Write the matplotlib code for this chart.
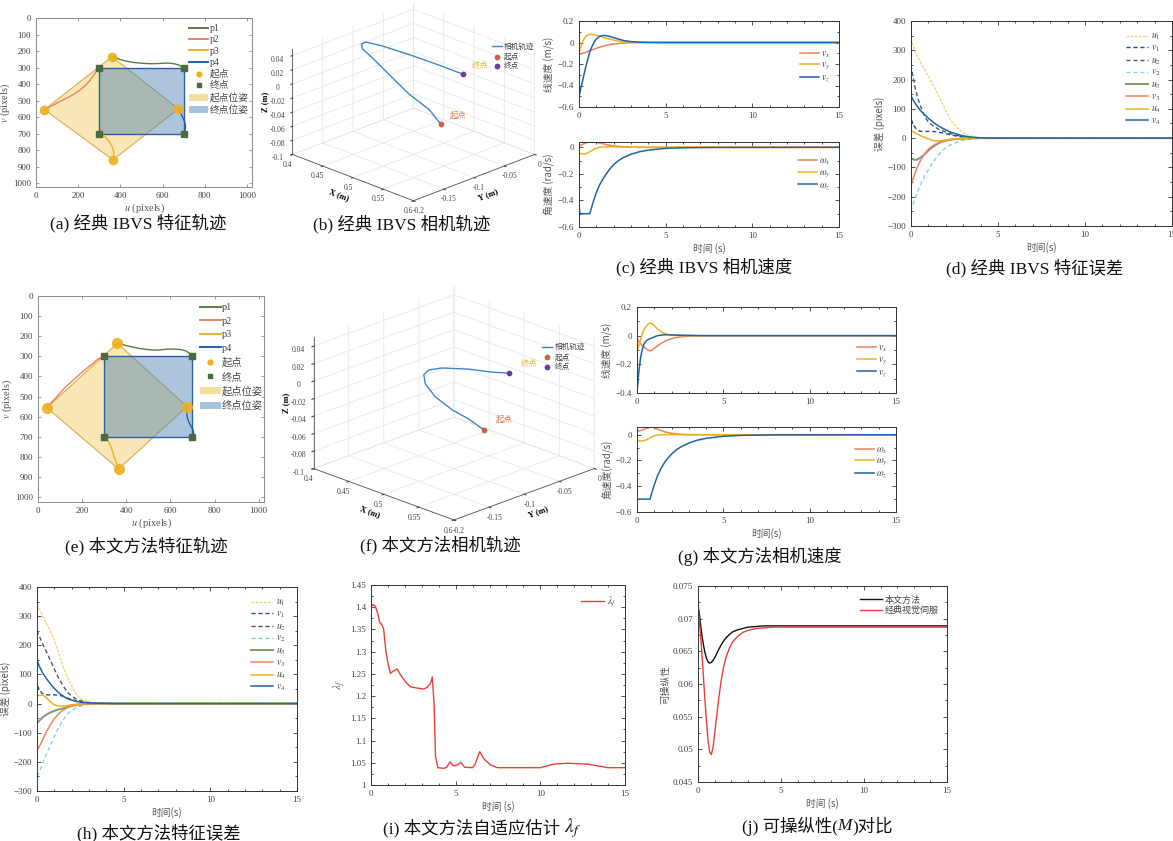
import matplotlib
matplotlib.use("Agg")
import matplotlib.pyplot as plt
from matplotlib.ticker import FuncFormatter, MultipleLocator
from matplotlib.patches import Polygon, Patch
from matplotlib.lines import Line2D

# ---------------- data ----------------
# image-plane feature corners (pixels)
start_u = [360, 40, 365, 675]
start_v = [235, 555, 860, 550]
end_u = [300, 700, 700, 300]
end_v = [300, 300, 700, 700]

p1_a_u = [364, 380, 400, 430, 462, 500, 541, 580, 620, 650, 675, 696, 700]
p1_a_v = [235, 243, 252, 262, 269, 274, 277, 276, 273, 276, 284, 298, 300]
p2_a_u = [40, 60, 82, 110, 146, 180, 209, 235, 256, 275, 288, 299, 300]
p2_a_v = [555, 542, 527, 508, 485, 462, 436, 408, 378, 345, 318, 302, 300]
p3_a_u = [365, 368, 369, 366, 360, 351, 340, 330, 318, 306, 300]
p3_a_v = [860, 840, 818, 797, 778, 757, 737, 722, 710, 702, 700]
p4_a_u = [675, 680, 686, 693, 700, 706, 709, 708, 705, 701, 700]
p4_a_v = [550, 562, 578, 596, 615, 635, 655, 672, 686, 696, 700]

p1_e_u = [364, 385, 402, 430, 462, 495, 523, 555, 583, 615, 644, 670, 689, 700]
p1_e_v = [236, 242, 247, 254, 261, 266, 269, 268, 264, 264, 266, 273, 286, 300]
p2_e_u = [40, 60, 80, 98, 125, 159, 190, 220, 245, 265, 285, 300]
p2_e_v = [555, 530, 507, 485, 452, 419, 388, 360, 338, 319, 306, 300]
p3_e_u = [365, 360, 352, 345, 340, 334, 326, 318, 311, 305, 300]
p3_e_v = [860, 840, 820, 800, 780, 760, 738, 722, 710, 704, 700]
p4_e_u = [675, 674, 675, 678, 684, 692, 700, 705, 704, 700]
p4_e_v = [550, 570, 590, 610, 628, 645, 660, 675, 690, 700]

# camera trajectories (m)
cam_b_x = [0.518, 0.523, 0.519, 0.491, 0.465, 0.447, 0.440, 0.439, 0.453, 0.483, 0.507, 0.528]
cam_b_y = [-0.073, -0.097, -0.126, -0.131, -0.132, -0.131, -0.126, -0.118, -0.105, -0.086, -0.066, -0.046]
cam_b_z = [-0.060, -0.030, 0.000, 0.020, 0.035, 0.042, 0.045, 0.045, 0.040, 0.030, 0.018, 0.005]

cam_f_x = [0.515, 0.509, 0.503, 0.491, 0.481, 0.474, 0.474, 0.479, 0.499, 0.518, 0.529]
cam_f_y = [-0.072, -0.087, -0.106, -0.118, -0.122, -0.117, -0.110, -0.097, -0.078, -0.064, -0.050]
cam_f_z = [-0.060, -0.045, -0.030, -0.015, -0.002, 0.005, 0.008, 0.008, 0.007, 0.005, 0.003]

# classic IBVS camera velocity
t_cv = [0, 0.1, 0.2, 0.3, 0.4, 0.5, 0.6, 0.7, 0.8, 0.9, 1.0, 1.2, 1.4, 1.6, 1.8, 2.0, 2.3, 2.6, 3.0, 3.5, 4.0, 5.0, 6.0, 8.0, 15]
vx_c = [-0.110, -0.106, -0.101, -0.096, -0.090, -0.084, -0.078, -0.072, -0.066, -0.060, -0.054, -0.043, -0.034, -0.026, -0.019, -0.014, -0.009, -0.005, -0.002, -0.001, 0, 0, 0, 0, 0]
vy_c = [-0.092, -0.045, 0.005, 0.035, 0.057, 0.068, 0.074, 0.076, 0.075, 0.072, 0.067, 0.058, 0.048, 0.039, 0.030, 0.022, 0.013, 0.007, 0.003, 0.001, 0, 0, 0, 0, 0]
vz_c = [-0.50, -0.43, -0.36, -0.29, -0.22, -0.16, -0.10, -0.055, -0.02, 0.01, 0.033, 0.058, 0.066, 0.063, 0.055, 0.045, 0.030, 0.018, 0.008, 0.003, 0.001, 0, 0, 0, 0]
t_cw = [0, 0.05, 0.1, 0.2, 0.3, 0.4, 0.5, 0.62, 0.7, 0.8, 0.9, 1.0, 1.2, 1.4, 1.6, 1.8, 2.0, 2.3, 2.6, 3.0, 3.5, 4.0, 5.0, 6.0, 8.0, 15]
wx_c = [0.008, 0.011, 0.015, 0.022, 0.028, 0.033, 0.037, 0.040, 0.040, 0.040, 0.039, 0.037, 0.032, 0.026, 0.020, 0.015, 0.011, 0.007, 0.004, 0.002, 0.001, 0, 0, 0, 0, 0]
wy_c = [-0.045, -0.046, -0.047, -0.049, -0.050, -0.048, -0.043, -0.033, -0.027, -0.019, -0.012, -0.007, 0.000, 0.003, 0.004, 0.004, 0.003, 0.002, 0.001, 0.0005, 0, 0, 0, 0, 0, 0]
wz_c = [-0.43, -0.50, -0.50, -0.50, -0.50, -0.50, -0.50, -0.50, -0.465, -0.42, -0.38, -0.34, -0.28, -0.235, -0.195, -0.16, -0.13, -0.098, -0.075, -0.052, -0.033, -0.021, -0.008, -0.003, -0.001, 0]

# proposed method camera velocity
t_gv = [0, 0.05, 0.1, 0.2, 0.3, 0.4, 0.5, 0.6, 0.7, 0.8, 0.9, 1.0, 1.2, 1.4, 1.6, 1.8, 2.0, 2.3, 2.6, 3.0, 3.5, 4.0, 5.0, 6.0, 8.0, 15]
vx_g = [-0.020, -0.030, -0.040, -0.055, -0.068, -0.078, -0.088, -0.097, -0.104, -0.105, -0.098, -0.088, -0.070, -0.054, -0.040, -0.029, -0.021, -0.012, -0.007, -0.003, -0.001, 0, 0, 0, 0, 0]
vy_g = [-0.110, -0.090, -0.070, -0.030, 0.010, 0.042, 0.062, 0.077, 0.085, 0.088, 0.082, 0.070, 0.045, 0.027, 0.015, 0.008, 0.004, 0.002, 0.001, 0, 0, 0, 0, 0, 0, 0]
vz_g = [-0.390, -0.330, -0.260, -0.160, -0.100, -0.060, -0.040, -0.030, -0.024, -0.019, -0.014, -0.008, 0.000, 0.004, 0.006, 0.006, 0.005, 0.004, 0.003, 0.002, 0.001, 0, 0, 0, 0, 0]
t_gw = [0, 0.05, 0.1, 0.2, 0.3, 0.4, 0.5, 0.6, 0.75, 0.85, 0.95, 1.05, 1.2, 1.4, 1.6, 1.8, 2.0, 2.3, 2.6, 3.0, 3.5, 4.0, 5.0, 6.0, 8.0, 15]
wx_g = [0.025, 0.027, 0.029, 0.033, 0.037, 0.041, 0.046, 0.051, 0.058, 0.060, 0.057, 0.052, 0.043, 0.032, 0.023, 0.016, 0.011, 0.006, 0.003, 0.001, 0, 0, 0, 0, 0, 0]
wy_g = [-0.045, -0.046, -0.047, -0.048, -0.048, -0.046, -0.042, -0.036, -0.025, -0.018, -0.012, -0.007, -0.003, 0.000, 0.001, 0.001, 0.001, 0, 0, 0, 0, 0, 0, 0, 0, 0]
wz_g = [-0.5, -0.5, -0.5, -0.5, -0.5, -0.5, -0.5, -0.5, -0.5, -0.455, -0.41, -0.37, -0.315, -0.26, -0.215, -0.18, -0.15, -0.115, -0.09, -0.065, -0.042, -0.028, -0.012, -0.005, -0.001, 0]

# feature errors (pixels)
t_e = [0, 0.1, 0.2, 0.3, 0.4, 0.5, 0.6, 0.8, 1.0, 1.2, 1.4, 1.6, 1.8, 2.0, 2.3, 2.6, 3.0, 3.5, 4.0, 4.5, 5.0, 6.0, 8.0, 15]
err_d = {
    "u1": [340, 320, 302, 288, 276, 265, 253, 232, 212, 190, 167, 143, 119, 94, 60, 38, 18, 7, 2, 1, 0, 0, 0, 0],
    "v1": [65, 52, 40, 32, 27, 24, 23, 23, 23, 23, 22, 20, 18, 15, 11, 7, 4, 2, 1, 0.5, 0, 0, 0, 0],
    "u2": [250, 215, 183, 157, 135, 117, 102, 72, 55, 45, 37, 30, 25, 21, 15, 10, 5, 2, 1, 0.5, 0, 0, 0, 0],
    "v2": [-250, -230, -212, -195, -180, -165, -152, -128, -107, -88, -71, -56, -43, -33, -22, -14, -7, -3, -1, -0.5, 0, 0, 0, 0],
    "u3": [-70, -72, -74, -74, -72, -68, -64, -54, -42, -32, -24, -17, -12, -9, -5, -3, -1.5, -0.5, 0, 0, 0, 0, 0, 0],
    "v3": [-160, -142, -125, -109, -95, -82, -71, -52, -38, -28, -21, -15, -11, -8, -5, -3, -1.5, -0.5, 0, 0, 0, 0, 0, 0],
    "u4": [25, 22, 19, 16, 13, 10, 7, 2, -3, -7, -9, -9, -8, -6, -4, -2, -1, 0, 0, 0, 0, 0, 0, 0],
    "v4": [145, 133, 123, 114, 106, 98, 91, 79, 68, 58, 49, 41, 34, 28, 20, 14, 8, 3, 1, 0.5, 0, 0, 0, 0],
}
err_h = {
    "u1": [340, 328, 318, 305, 292, 280, 268, 245, 218, 182, 145, 112, 85, 62, 28, 14, 6, 2, 1, 0.5, 0, 0, 0, 0],
    "v1": [63, 52, 42, 35, 32, 31, 30, 30, 30, 29, 27, 23, 18, 14, 9, 5, 2, 1, 0.5, 0, 0, 0, 0, 0],
    "u2": [251, 235, 222, 208, 195, 183, 170, 145, 118, 93, 72, 52, 36, 26, 14, 8, 3, 1, 0.5, 0, 0, 0, 0, 0],
    "v2": [-250, -238, -225, -210, -195, -180, -166, -140, -113, -88, -66, -48, -34, -24, -13, -7, -3, -1, 0, 0, 0, 0, 0, 0],
    "u3": [-67, -61, -55, -49, -44, -40, -36, -30, -25, -21, -18, -15, -11, -7, -4, -2, -1, 0, 0, 0, 0, 0, 0, 0],
    "v3": [-160, -150, -140, -128, -115, -102, -90, -70, -52, -38, -27, -19, -13, -9, -5, -3, -1, 0, 0, 0, 0, 0, 0, 0],
    "u4": [25, 28, 29, 29, 27, 22, 16, 5, -4, -8, -9, -8, -6, -4, -2, -1, 0, 0, 0, 0, 0, 0, 0, 0],
    "v4": [149, 133, 120, 108, 98, 89, 81, 66, 52, 40, 30, 22, 16, 12, 7, 4, 2, 1, 0.5, 0, 0, 0, 0, 0],
}

# adaptive estimate lambda_f
t_i = [0, 0.12, 0.26, 0.4, 0.51, 0.65, 0.75, 0.87, 1.0, 1.15, 1.3, 1.54, 1.74, 2.04, 2.33, 2.73, 3.12, 3.32, 3.52, 3.62,
       3.72, 3.81, 3.95, 4.31, 4.47, 4.66, 4.86, 5.1, 5.3, 5.53, 5.99, 6.13, 6.42, 6.68, 7.07, 7.47, 10.0, 10.8, 11.6, 12.8, 14.0, 15.0]
lam_f = [1.401, 1.406, 1.402, 1.385, 1.366, 1.36, 1.35, 1.304, 1.274, 1.251, 1.256, 1.261, 1.248, 1.232, 1.221, 1.218, 1.216, 1.22, 1.229, 1.243,
         1.184, 1.064, 1.039, 1.0375, 1.04, 1.052, 1.043, 1.045, 1.051, 1.04, 1.039, 1.045, 1.075, 1.058, 1.045, 1.039, 1.039, 1.047, 1.049, 1.047, 1.039, 1.039]

# manipulability
t_j = [0, 0.05, 0.1, 0.16, 0.22, 0.3, 0.4, 0.5, 0.6, 0.7, 0.8, 0.9, 1.0, 1.1, 1.25, 1.4, 1.55, 1.7, 1.9, 2.1, 2.4, 2.7, 3.0, 3.5, 4.0, 4.5, 5.0, 6.0, 15]
m_ours = [0.0720, 0.0712, 0.0703, 0.0690, 0.0677, 0.0664, 0.0650, 0.0640, 0.0634, 0.0632, 0.0633, 0.0636, 0.0640, 0.0645, 0.0653, 0.0660, 0.0666, 0.0671, 0.0676, 0.0680,
          0.0683, 0.0685, 0.0687, 0.0688, 0.0689, 0.0689, 0.0689, 0.0689, 0.0689]
m_classic = [0.0720, 0.0705, 0.0690, 0.0672, 0.0652, 0.0622, 0.0582, 0.0546, 0.0515, 0.0496, 0.0492, 0.0502, 0.0522, 0.0546, 0.0578, 0.0606, 0.0627, 0.0642, 0.0655, 0.0665,
             0.0673, 0.0679, 0.0682, 0.0685, 0.0686, 0.0687, 0.0687, 0.0687, 0.0687]

# ---------------- style ----------------
W, H = 1173, 841
plt.rcParams["font.family"] = ["Liberation Serif", "Noto Sans CJK SC"]
plt.rcParams["mathtext.fontset"] = "stix"
plt.rcParams["axes.unicode_minus"] = True

C_ORANGE = "#E9835F"
C_YELLOW = "#EDB120"
C_BLUE = "#1F63A8"
C_GREEN = "#5B7A4A"
C_LABEL = "#555555"
CJK = ["Noto Sans CJK SC", "DejaVu Sans"]
MIXED = ["Liberation Serif", "Noto Sans CJK SC"]

fig = plt.figure(figsize=(W / 100, H / 100), dpi=100)
renderer = fig.canvas.get_renderer()


def px_axes(l, t, r, b, **kw):
    return fig.add_axes([l / W, 1 - b / H, (r - l) / W, (b - t) / H], **kw)


def num(v, pos=None):
    if abs(v) < 1e-12:
        return "0"
    return ("%g" % v).replace("-", "\u2212")


def style2d(ax, spine="#333333", minor_x=1, major_x=5):
    for s in ax.spines.values():
        s.set_color(spine)
        s.set_linewidth(0.7)
    ax.tick_params(which="both", direction="in", top=True, right=True,
                   labelsize=6.5, colors=spine, labelcolor="#444444", width=0.6)
    ax.tick_params(which="major", length=3)
    ax.tick_params(which="minor", length=1.6)
    if major_x:
        ax.xaxis.set_major_locator(MultipleLocator(major_x))
    ax.xaxis.set_major_formatter(FuncFormatter(num))
    ax.yaxis.set_major_formatter(FuncFormatter(num))
    if minor_x:
        ax.xaxis.set_minor_locator(MultipleLocator(minor_x))


def caption(x, y, parts):
    """Centre a caption made of (text, font kwargs) pieces laid side by side."""
    texts = []
    for s, kw in parts:
        opts = dict(fontsize=12.5, color="#111111", family=MIXED)
        opts.update(kw)
        texts.append(fig.text(0, 1 - y / H, s, ha="left", va="center", **opts))
    widths = [t.get_window_extent(renderer).width for t in texts]
    x0 = x - sum(widths) / 2
    for t, w in zip(texts, widths):
        t.set_x(x0 / W)
        x0 += w


# ---------------- image-plane trajectories ----------------
def feature_panel(rect, trajs, legend_fs, anchor, mk_start, mk_end, spacing):
    ax = px_axes(*rect)
    ax.add_patch(Polygon(list(zip(start_u, start_v)), closed=True,
                         facecolor=(0.95, 0.78, 0.33, 0.42), edgecolor="#D6AC4C", lw=0.8))
    ax.add_patch(Polygon(list(zip(end_u, end_v)), closed=True,
                         facecolor=(0.29, 0.50, 0.70, 0.45), edgecolor="#2F5F9E", lw=1.0))
    colors = [C_GREEN, C_ORANGE, C_YELLOW, C_BLUE]
    for (u, v), c in zip(trajs, colors):
        ax.plot(u, v, color=c, lw=1.0)
    ax.plot(start_u, start_v, "o", color=C_YELLOW, ms=mk_start, alpha=0.9, ls="none")
    ax.plot(end_u, end_v, "s", color="#4D6B3C", ms=mk_end, ls="none")
    ax.set_xlim(0, 1024)
    ax.set_ylim(1024, 0)
    ax.set_xticks(range(0, 1001, 200))
    ax.set_yticks(range(0, 1001, 100))
    style2d(ax, spine="#8a8a8a", minor_x=0, major_x=0)
    ax.tick_params(labelsize=6.5, length=2)
    ax.set_xlabel(r"$u$ (pixels)", fontsize=7.5, color=C_LABEL, labelpad=1)
    ax.set_ylabel(r"$v$ (pixels)", fontsize=7.5, color=C_LABEL, labelpad=1)
    handles = [Line2D([], [], color=c, lw=1.4) for c in colors]
    handles += [Line2D([], [], marker="o", color=C_YELLOW, ls="none", ms=3.5),
                Line2D([], [], marker="s", color="#4D6B3C", ls="none", ms=2.8),
                Patch(facecolor=(0.97, 0.87, 0.62), edgecolor="none"),
                Patch(facecolor=(0.66, 0.76, 0.86), edgecolor="none")]
    labels = ["p1", "p2", "p3", "p4", "起点", "终点", "起点位姿", "终点位姿"]
    leg = ax.legend(handles, labels, loc="upper left", bbox_to_anchor=anchor, frameon=False,
                    fontsize=legend_fs, handlelength=2.0, handletextpad=0.15, labelspacing=spacing,
                    borderpad=0, borderaxespad=0)
    for t in leg.get_texts():
        t.set_color("#444444")
        t.set_family(MIXED)
    return ax


feature_panel((36, 18, 252, 187),
              [(p1_a_u, p1_a_v), (p2_a_u, p2_a_v), (p3_a_u, p3_a_v), (p4_a_u, p4_a_v)],
              7.0, (0.708, 0.965), 6, 4, 0.25)
caption(138, 223, [("(a) 经典 IBVS 特征轨迹", {})])

feature_panel((38, 296, 264, 502),
              [(p1_e_u, p1_e_v), (p2_e_u, p2_e_v), (p3_e_u, p3_e_v), (p4_e_u, p4_e_v)],
              7.4, (0.717, 0.965), 7, 4.5, 0.42)
caption(146, 546, [("(e) 本文方法特征轨迹", {})])


# ---------------- camera trajectories (3D) ----------------
def cam_panel(rect, xs, ys, zs, elev, aspect, zoom, start_dx, end_dx, leg_anchor):
    ax = px_axes(*rect, projection="3d")
    ax.set_proj_type("ortho")
    ax.set_xlim(0.4, 0.6)
    ax.set_ylim(-0.2, 0.0)
    ax.set_zlim(-0.1, 0.05)
    ax.set_box_aspect((1, 1, aspect), zoom=zoom)
    ax.view_init(elev=elev, azim=-45)
    ax.patch.set_alpha(0)
    for axis in (ax.xaxis, ax.yaxis, ax.zaxis):
        axis.set_pane_color((1, 1, 1, 0))
        axis.pane.set_edgecolor("#555555")
        axis.pane.set_linewidth(0.6)
        axis._axinfo["grid"].update(color="#e4e4e4", linewidth=0.5)
        axis._axinfo["tick"].update(inward_factor=0.15, outward_factor=0.0)
        axis.line.set_color("#555555")
        axis.line.set_linewidth(0.6)
        axis.set_major_formatter(FuncFormatter(lambda v, p: ("%g" % v) if abs(v) > 1e-12 else "0"))
    ax.zaxis.set_ticks_position("lower")
    ax.zaxis.set_label_position("lower")
    ax.set_xticks([0.4, 0.45, 0.5, 0.55, 0.6])
    ax.set_yticks([-0.2, -0.15, -0.1, -0.05, 0.0])
    ax.set_zticks([-0.1, -0.08, -0.06, -0.04, -0.02, 0.0, 0.02, 0.04])
    ax.tick_params(labelsize=5.5, colors="#444444")
    ax.tick_params(axis="x", pad=-4)
    ax.tick_params(axis="y", pad=-4)
    ax.tick_params(axis="z", pad=-2)
    ax.set_xlabel("X (m)", fontsize=6, fontweight="bold", labelpad=-10)
    ax.set_ylabel("Y (m)", fontsize=6, fontweight="bold", labelpad=-10)
    ax.set_zlabel("Z (m)", fontsize=6, fontweight="bold", labelpad=-10)
    line, = ax.plot(xs, ys, zs, color="#3D86C8", lw=1.0)
    s = ax.scatter([xs[0]], [ys[0]], [zs[0]], color="#D2643A", s=14, depthshade=False,
                   edgecolors="#9a4a30", linewidths=0.3)
    e = ax.scatter([xs[-1]], [ys[-1]], [zs[-1]], color="#6A3D9A", s=14, depthshade=False,
                   edgecolors="#4a2a70", linewidths=0.3)
    ax.text(xs[0], ys[0] + start_dx, zs[0] + 0.002, "起点", color="#E3795A", fontsize=6,
            family=CJK, va="bottom")
    ax.text(xs[-1], ys[-1] + end_dx, zs[-1] + 0.002, "终点", color="#E8B53A", fontsize=6,
            family=CJK, va="bottom")
    leg = ax.legend([line, s, e], ["相机轨迹", "起点", "终点"], loc="upper left", bbox_to_anchor=leg_anchor,
                    frameon=False, handlelength=1.3, handletextpad=0.3, labelspacing=0.25,
                    borderpad=0, borderaxespad=0, prop={"family": CJK, "size": 5.5})
    for t in leg.get_texts():
        t.set_color("#444444")
    return ax


# 3D axes are drawn in a square box, so legend anchors are relative to that square
cam_panel((250, -25, 570, 235), cam_b_x, cam_b_y, cam_b_z, 22.5, 0.67, 1.0, 0.015, 0.015, (0.815, 0.74))
caption(402, 224, [("(b) 经典 IBVS 相机轨迹", {})])
cam_panel((268, 259, 632, 555), cam_f_x, cam_f_y, cam_f_z, 21.5, 0.71, 1.03, 0.017, 0.016, (0.812, 0.715))
caption(440, 545, [("(f) 本文方法相机轨迹", {})])


# ---------------- camera velocities ----------------
def vel_pair(top_rect, bot_rect, tv, vx, vy, vz, tw, wx, wy, wz, vylim, top_anchor, bot_anchor, xl, yl1, yl2):
    a1 = px_axes(*top_rect)
    a1.plot(tv, vx, color=C_ORANGE, lw=1.1)
    a1.plot(tv, vy, color=C_YELLOW, lw=1.1)
    a1.plot(tv, vz, color=C_BLUE, lw=1.1)
    a1.set_xlim(0, 15)
    a1.set_ylim(*vylim)
    a1.yaxis.set_major_locator(MultipleLocator(0.2))
    style2d(a1)
    a1.yaxis.set_minor_locator(MultipleLocator(0.1))
    a1.set_ylabel(yl1, fontsize=7, color=C_LABEL, family=CJK, labelpad=2)
    lg = a1.legend([r"$v_x$", r"$v_y$", r"$v_z$"], loc="center right", bbox_to_anchor=top_anchor, frameon=False,
                   fontsize=7, handlelength=1.9, handletextpad=0.2, labelspacing=0.1)
    for t in lg.get_texts():
        t.set_color("#444444")

    a2 = px_axes(*bot_rect)
    a2.plot(tw, wx, color=C_ORANGE, lw=1.1)
    a2.plot(tw, wy, color=C_YELLOW, lw=1.1)
    a2.plot(tw, wz, color=C_BLUE, lw=1.1)
    a2.set_xlim(0, 15)
    a2.set_ylim(-0.6, max(wx))
    a2.yaxis.set_major_locator(MultipleLocator(0.2))
    style2d(a2)
    a2.yaxis.set_minor_locator(MultipleLocator(0.1))
    a2.set_ylabel(yl2, fontsize=7, color=C_LABEL, family=CJK, labelpad=2)
    a2.set_xlabel(xl, fontsize=7, color=C_LABEL, family=CJK, labelpad=2)
    lg = a2.legend([r"$\omega_x$", r"$\omega_y$", r"$\omega_z$"], loc="center right", bbox_to_anchor=bot_anchor,
                   frameon=False, fontsize=7, handlelength=1.9, handletextpad=0.2, labelspacing=0.1)
    for t in lg.get_texts():
        t.set_color("#444444")


vel_pair((579, 21, 839, 107), (579, 142, 839, 227), t_cv, vx_c, vy_c, vz_c, t_cw, wx_c, wy_c, wz_c,
         (-0.6, 0.2), (1.0, 0.47), (1.0, 0.62), "时间 (s)", "线速度 (m/s)", "角速度 (rad/s)")
caption(704, 267, [("(c) 经典 IBVS 相机速度", {})])

vel_pair((637, 307, 896, 393), (637, 427, 896, 512), t_gv, vx_g, vy_g, vz_g, t_gw, wx_g, wy_g, wz_g,
         (-0.4, 0.2), (1.0, 0.37), (1.0, 0.58), "时间(s)", "线速度 (m/s)", "角速度(rad/s)")
caption(760, 557, [("(g) 本文方法相机速度", {})])


# ---------------- feature errors ----------------
err_styles = [
    ("u1", r"$u_1$", "#F3D37A", (0, (2, 1)), 1.0),
    ("v1", r"$v_1$", "#1F4E8C", (0, (3, 2)), 1.0),
    ("u2", r"$u_2$", "#4A5866", (0, (3, 2)), 1.0),
    ("v2", r"$v_2$", "#8CCFE0", (0, (3, 2)), 1.0),
    ("u3", r"$u_3$", "#7E9A6E", "-", 1.4),
    ("v3", r"$v_3$", "#F08462", "-", 1.1),
    ("u4", r"$u_4$", C_YELLOW, "-", 1.1),
    ("v4", r"$v_4$", C_BLUE, "-", 1.1),
]


def err_panel(rect, data, xl):
    ax = px_axes(*rect)
    for key, lab, c, ls, lw in err_styles:
        ax.plot(t_e, data[key], color=c, ls=ls, lw=lw, label=lab)
    ax.set_xlim(0, 15)
    ax.set_ylim(-300, 400)
    ax.yaxis.set_major_locator(MultipleLocator(100))
    style2d(ax)
    ax.yaxis.set_minor_locator(MultipleLocator(50))
    ax.set_ylabel("误差 (pixels)", fontsize=7, color=C_LABEL, family=CJK, labelpad=2)
    ax.set_xlabel(xl, fontsize=7, color=C_LABEL, family=CJK, labelpad=2)
    lg = ax.legend(loc="upper right", bbox_to_anchor=(0.975, 0.975), frameon=False, fontsize=7,
                   handlelength=2.2, handletextpad=0.3, labelspacing=0.12, borderpad=0)
    for t in lg.get_texts():
        t.set_color("#444444")
    return ax


err_panel((911, 21, 1172, 226), err_d, "时间(s)")
caption(1035, 268, [("(d) 经典 IBVS 特征误差", {})])
err_panel((37, 587, 297, 791), err_h, "时间(s)")
caption(159, 833, [("(h) 本文方法特征误差", {})])

# ---------------- lambda_f ----------------
ax_i = px_axes(371, 585, 625, 785)
ax_i.plot(t_i, lam_f, color="#E8403A", lw=1.0, label=r"$\lambda_f$")
ax_i.set_xlim(0, 15)
ax_i.set_ylim(1.0, 1.45)
ax_i.yaxis.set_major_locator(MultipleLocator(0.05))
style2d(ax_i)
ax_i.yaxis.set_minor_locator(MultipleLocator(0.025))
ax_i.set_ylabel(r"$\lambda_f$", fontsize=8, color=C_LABEL, labelpad=2)
ax_i.set_xlabel("时间 (s)", fontsize=7, color=C_LABEL, family=CJK, labelpad=2)
lg = ax_i.legend(loc="upper right", bbox_to_anchor=(0.985, 0.975), frameon=False, fontsize=7,
                 handlelength=2.4, handletextpad=0.3, borderpad=0)
for t in lg.get_texts():
    t.set_color("#444444")
caption(482, 828, [("(i) 本文方法自适应估计 ", {}), (r"$\lambda_f$", {"fontsize": 14})])

# ---------------- manipulability ----------------
ax_j = px_axes(698, 586, 947, 782)
ax_j.plot(t_j, m_ours, color="#111111", lw=1.0, label="本文方法")
ax_j.plot(t_j, m_classic, color="#E8403A", lw=1.0, label="经典视觉伺服")
ax_j.set_xlim(0, 15)
ax_j.set_ylim(0.045, 0.075)
ax_j.yaxis.set_major_locator(MultipleLocator(0.005))
style2d(ax_j)
ax_j.yaxis.set_minor_locator(MultipleLocator(0.0025))
ax_j.set_ylabel("可操纵性", fontsize=7, color=C_LABEL, family=CJK, labelpad=2)
ax_j.set_xlabel("时间 (s)", fontsize=7, color=C_LABEL, family=CJK, labelpad=2)
lg = ax_j.legend(loc="upper right", bbox_to_anchor=(0.985, 0.975), frameon=False,
                 prop={"family": CJK, "size": 6.5}, handlelength=2.4, handletextpad=0.3,
                 labelspacing=0.15, borderpad=0)
for t in lg.get_texts():
    t.set_color("#444444")
caption(817, 826, [("(j) 可操纵性(", {}), ("M", {"style": "italic"}), (")对比", {})])

fig.savefig("out.png", dpi=100)
